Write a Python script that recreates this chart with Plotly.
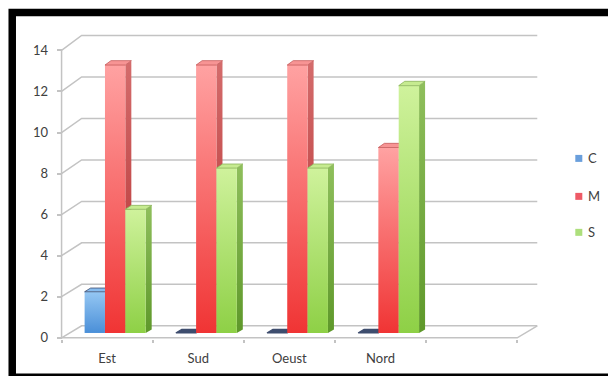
import plotly.graph_objects as go

# ---- data -------------------------------------------------------------
categories = ["Est", "Sud", "Oeust", "Nord"]
series_names = ["C", "M", "S"]
values_c = [2, 0, 0, 0]
values_m = [13, 13, 13, 9]
values_s = [6, 8, 8, 12]
y_ticks = [0, 2, 4, 6, 8, 10, 12, 14]

series_values = [values_c, values_m, values_s]

# ---- styling ----------------------------------------------------------
palette = {
    "C": dict(front=("#4a8fd8", "#95c7f3"), side=("#2f69ad", "#5d92d0"),
              top="#86bcef", edge="#3e4d6e", legend="#6a9fdc"),
    "M": dict(front=("#f03434", "#ffa2a2"), side=("#b42c2c", "#d46c6c"),
              top="#f79494", edge="#c45a5a", legend="#ee5a66"),
    "S": dict(front=("#8ed046", "#cff29c"), side=("#5e982a", "#8fbf5c"),
              top="#c6eb90", edge="#8ab35a", legend="#addf7c"),
}
GRID = "#c3c3c3"
TEXT = "#404040"
FONT = "Lato"

W, H = 608, 376

# ---- pseudo-3D projection ---------------------------------------------
N_SLOTS = 5            # floor slots (the last one stays empty)
DX = 0.22              # back wall shift, category units
DY0 = 0.584            # back wall lift at value 0, value units
DY_SLOPE = 0.0102      # slight perspective growth with height
D_FRONT, D_BACK = 0.40, 0.70   # depth span occupied by the columns
GROUP_W = 0.67
BAR_W = GROUP_W / len(series_names)


def proj(x, v, d):
    """Map a point (x, value, depth in [0, 1]) onto the 2-D axes."""
    return x + d * DX, v + d * (DY0 + DY_SLOPE * v)


X_RANGE = [-0.55, N_SLOTS - 0.5 + 0.25]
Y_RANGE = [-0.06, 14.8]
PX_PER_X = 91.0
PX_PER_Y = 20.54
M_L = 62 + (X_RANGE[0] + 0.5) * PX_PER_X
M_B = H - (337.5 - Y_RANGE[0] * PX_PER_Y)
PLOT_W = (X_RANGE[1] - X_RANGE[0]) * PX_PER_X
PLOT_H = (Y_RANGE[1] - Y_RANGE[0]) * PX_PER_Y
M_R = W - M_L - PLOT_W
M_T = H - M_B - PLOT_H


def paper_x(px):
    return (px - M_L) / PLOT_W


def paper_y(py):
    return (H - M_B - py) / PLOT_H


fig = go.Figure()

# ---- walls and floor -----------------------------------------------------
x_left, x_right = -0.5, N_SLOTS - 0.5
for v in y_ticks:
    bx0, by = proj(x_left, v, 1.0)
    bx1, _ = proj(x_right, v, 1.0)
    fig.add_trace(go.Scatter(
        x=[x_left, bx0, bx1], y=[v, by, by], mode="lines",
        line=dict(color=GRID, width=1.5), hoverinfo="skip", showlegend=False))

# front edge of the floor and its right-hand return
fx, fy = proj(x_right, 0, 1.0)
fig.add_trace(go.Scatter(
    x=[x_left, x_right, fx], y=[0, 0, fy], mode="lines",
    line=dict(color=GRID, width=1.5), hoverinfo="skip", showlegend=False))
# front edge of the side wall
fig.add_trace(go.Scatter(
    x=[x_left, x_left], y=[0, y_ticks[-1]], mode="lines",
    line=dict(color=GRID, width=1.5), hoverinfo="skip", showlegend=False))


def face(points, fill, gradient=None, edge=None, edge_w=0.8):
    xs = [p[0] for p in points] + [points[0][0]]
    ys = [p[1] for p in points] + [points[0][1]]
    kw = dict(x=xs, y=ys, mode="lines", fill="toself", hoverinfo="skip",
              showlegend=False,
              line=dict(color=edge if edge else fill,
                        width=edge_w if edge else 0))
    if gradient:
        kw["fillgradient"] = dict(type="vertical",
                                  colorscale=[[0, gradient[0]], [1, gradient[1]]])
    else:
        kw["fillcolor"] = fill
    fig.add_trace(go.Scatter(**kw))


# ---- columns --------------------------------------------------------------
for j in range(len(categories)):
    for i, name in enumerate(series_names):
        v = series_values[i][j]
        c = palette[name]
        x0 = j - GROUP_W / 2 + i * BAR_W
        x1 = x0 + BAR_W
        fbl = proj(x0, 0, D_FRONT)
        fbr = proj(x1, 0, D_FRONT)
        ftl = proj(x0, v, D_FRONT)
        ftr = proj(x1, v, D_FRONT)
        bbr = proj(x1, 0, D_BACK)
        btl = proj(x0, v, D_BACK)
        btr = proj(x1, v, D_BACK)
        if v > 0:
            face([fbr, bbr, btr, ftr], c["side"][0], gradient=c["side"])
            face([fbl, fbr, ftr, ftl], c["front"][0], gradient=c["front"])
            face([ftl, ftr, btr, btl], c["top"], edge=c["edge"])
        else:
            # a zero-height column only shows its flat lid on the floor
            face([ftl, ftr, btr, btl], c["edge"], edge=c["edge"], edge_w=1.2)

# ---- legend (square key + name, right of the plot) ------------------------
shapes = [dict(type="rect", xref="paper", yref="paper",
               x0=paper_x(12.75), x1=paper_x(650),
               y0=paper_y(377), y1=paper_y(12),
               line=dict(color="black", width=7.5))]
annotations = []
legend_rows = [158, 196, 232]
for name, row in zip(series_names, legend_rows):
    shapes.append(dict(type="rect", xref="paper", yref="paper",
                       x0=paper_x(575), x1=paper_x(582),
                       y0=paper_y(row + 3.5), y1=paper_y(row - 3.5),
                       fillcolor=palette[name]["legend"], line=dict(width=0)))
    annotations.append(dict(xref="paper", yref="paper", x=paper_x(586),
                            y=paper_y(row), text=name, showarrow=False,
                            xanchor="left", yanchor="middle",
                            font=dict(family=FONT, size=13, color=TEXT)))

fig.update_layout(
    width=W, height=H,
    margin=dict(l=M_L, r=M_R, t=M_T, b=M_B, pad=0, autoexpand=False),
    paper_bgcolor="white", plot_bgcolor="white",
    font=dict(family=FONT, size=13, color=TEXT),
    showlegend=False,
    xaxis=dict(range=X_RANGE, tickvals=list(range(len(categories))),
               ticktext=categories, showgrid=False, zeroline=False,
               showline=False, ticks="", ticklabelstandoff=10,
               fixedrange=True,
               minor=dict(tickmode="array",
                          tickvals=[k - 0.5 for k in range(N_SLOTS + 1)],
                          ticks="outside", ticklen=3, tickwidth=1.5,
                          tickcolor=GRID, showgrid=False)),
    yaxis=dict(range=Y_RANGE, tickvals=y_ticks, showgrid=False,
               zeroline=False, showline=False, ticks="inside", ticklen=5,
               tickwidth=1.5, tickcolor=GRID, ticklabelstandoff=8,
               fixedrange=True),
    shapes=shapes,
    annotations=annotations,
)

fig.write_html("out.html")
